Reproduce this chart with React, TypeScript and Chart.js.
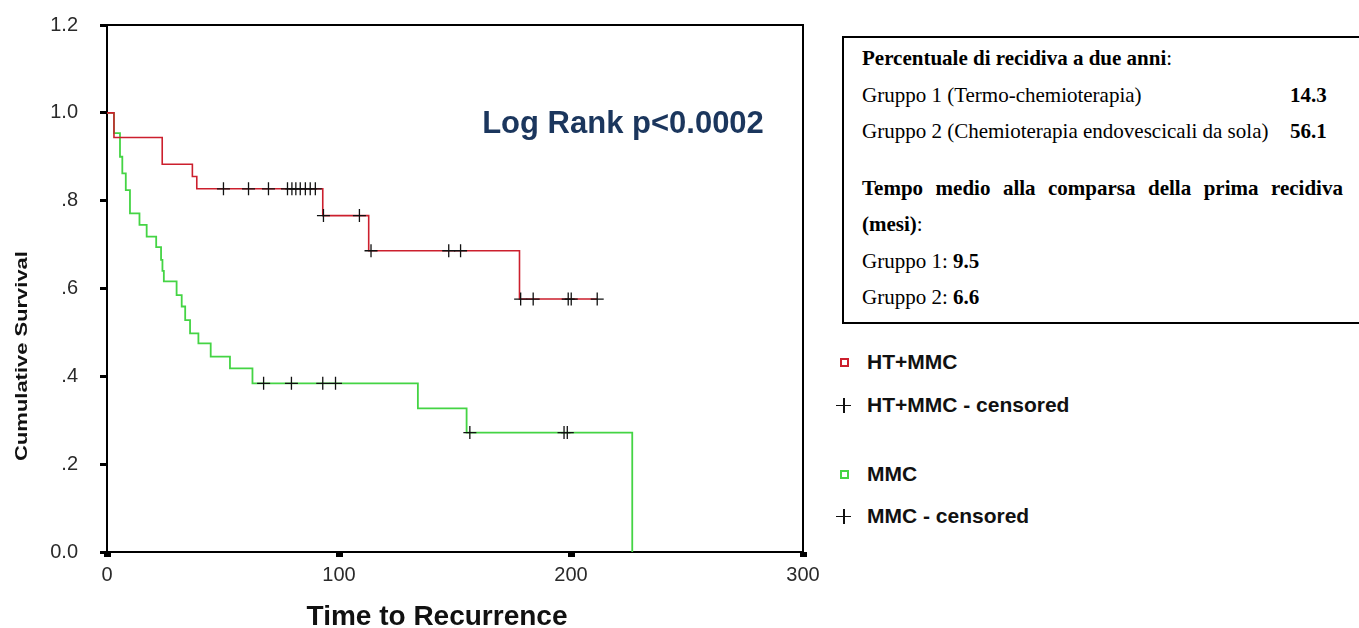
import React, { useEffect, useRef } from "react";
import { Chart, registerables } from "chart.js";

Chart.register(...registerables);

// Axis ticks
const xTickValues = [0, 100, 200, 300];
const xTickLabels = ["0", "100", "200", "300"];
const yTickValues = [0, 0.2, 0.4, 0.6, 0.8, 1.0, 1.2];
const yTickLabels = ["0.0", ".2", ".4", ".6", ".8", "1.0", "1.2"];

// HT+MMC: event times and survival after each event
const htmmcTimes = [0, 3, 23.8, 36.8, 38.7, 93, 112.8, 177.8];
const htmmcSurvival = [1.0, 0.944, 0.883, 0.855, 0.827, 0.766, 0.686, 0.576];
const htmmcCensored = [
  50.2, 61, 69.6, 77.8, 79.7, 81.4, 83.3, 85.5, 87.6, 89.8, 93.3, 108.8, 113.8,
  147.3, 152.4, 178.3, 183.7, 198.8, 200.1, 211.3,
];

// MMC: event times and survival after each event
const mmcTimes = [
  0, 3, 5.6, 6.6, 8.1, 9.9, 14, 17.1, 21.2, 23.3, 23.9, 24.5, 30, 32.2, 33.7,
  35.8, 39.4, 44.7, 53, 62.7, 134, 155, 226.4,
];
const mmcSurvival = [
  1.0, 0.954, 0.9, 0.862, 0.824, 0.771, 0.745, 0.718, 0.694, 0.665, 0.64, 0.616,
  0.585, 0.559, 0.528, 0.498, 0.475, 0.445, 0.418, 0.384, 0.327, 0.272, 0,
];
const mmcCensored = [67.5, 79.5, 93, 98.5, 156.4, 197, 198.4];

// Side panel figures
const groupLabels = [
  "Gruppo 1 (Termo-chemioterapia)",
  "Gruppo 2 (Chemioterapia endovescicali da sola)",
];
const twoYearRecurrence = ["14.3", "56.1"];
const meanMonthsToRecurrence = ["9.5", "6.6"];

const RED = "#cc1f2d";
const GREEN = "#44d444";

function survivalAt(times: number[], surv: number[], t: number): number {
  let s = surv[0];
  for (let i = 0; i < times.length; i++) {
    if (times[i] <= t) s = surv[i];
  }
  return s;
}

function curvePoints(times: number[], surv: number[], censored: number[]) {
  const pts = times.map((t, i) => ({ x: t, y: surv[i] }));
  const lastCensor = Math.max(...censored);
  if (lastCensor > times[times.length - 1]) {
    pts.push({ x: lastCensor, y: surv[surv.length - 1] });
  }
  return pts;
}

function censorPoints(times: number[], surv: number[], censored: number[]) {
  return censored.map((t) => ({ x: t, y: survivalAt(times, surv, t) }));
}

const decorations = {
  id: "decorations",
  beforeDatasetsDraw(chart: any) {
    const { ctx, chartArea: a } = chart;
    ctx.save();
    ctx.strokeStyle = "#000";
    ctx.lineWidth = 2;
    ctx.strokeRect(a.left, a.top, a.right - a.left, a.bottom - a.top);
    ctx.restore();
  },
  afterDraw(chart: any) {
    const { ctx, chartArea: a } = chart;
    ctx.save();
    // statistic annotation
    ctx.fillStyle = "#1b365d";
    ctx.font = 'bold 31px "Liberation Sans", Arial, sans-serif';
    ctx.textAlign = "center";
    ctx.textBaseline = "alphabetic";
    ctx.fillText("Log Rank p<0.0002", a.left + 516, a.top + 108);

    // x-axis title
    ctx.fillStyle = "#111";
    ctx.font = 'bold 28px "Liberation Sans", Arial, sans-serif';
    ctx.fillText("Time to Recurrence", a.left + 330, a.bottom + 73);

    // y-axis title, stretched along its length
    ctx.translate(a.left - 85, a.top + 331);
    ctx.rotate(-Math.PI / 2);
    ctx.scale(1.33, 1);
    ctx.font = 'bold 16.5px "Liberation Sans", Arial, sans-serif';
    ctx.textBaseline = "middle";
    ctx.fillText("Cumulative Survival", 0, 0);
    ctx.restore();
  },
};

function KaplanMeierChart() {
  const ref = useRef<HTMLCanvasElement>(null);
  useEffect(() => {
    if (!ref.current) return;
    const chart = new Chart(ref.current, {
      type: "scatter",
      data: {
        datasets: [
          {
            label: "HT+MMC - censored",
            data: censorPoints(htmmcTimes, htmmcSurvival, htmmcCensored),
            pointStyle: "cross",
            pointRadius: 6.5,
            borderColor: "#111",
            backgroundColor: "#111",
            borderWidth: 1.3,
            order: 0,
          },
          {
            label: "MMC - censored",
            data: censorPoints(mmcTimes, mmcSurvival, mmcCensored),
            pointStyle: "cross",
            pointRadius: 6.5,
            borderColor: "#111",
            backgroundColor: "#111",
            borderWidth: 1.3,
            order: 0,
          },
          {
            label: "HT+MMC",
            data: curvePoints(htmmcTimes, htmmcSurvival, htmmcCensored),
            showLine: true,
            stepped: "before",
            borderColor: RED,
            borderWidth: 1.6,
            pointRadius: 0,
            order: 1,
          },
          {
            label: "MMC",
            data: curvePoints(mmcTimes, mmcSurvival, mmcCensored),
            showLine: true,
            stepped: "before",
            borderColor: GREEN,
            borderWidth: 1.8,
            pointRadius: 0,
            order: 2,
          },
        ],
      },
      options: {
        animation: false,
        responsive: false,
        devicePixelRatio: 1,
        layout: { padding: { left: 0, top: 25, right: 27, bottom: 0 } },
        plugins: {
          legend: { display: false },
          tooltip: { enabled: false },
        },
        scales: {
          x: {
            type: "linear",
            min: 0,
            max: 300,
            afterFit(scale: any) {
              scale.height = 76;
              scale.paddingLeft = 0;
              scale.paddingRight = 0;
            },
            afterBuildTicks(scale: any) {
              scale.ticks = xTickValues.map((v) => ({ value: v }));
            },
            ticks: {
              callback: (_v: any, i: number) => xTickLabels[i],
              color: "#2a2a2a",
              font: { family: '"Liberation Sans", Arial, sans-serif', size: 20 },
              padding: 6,
              maxRotation: 0,
            },
            grid: {
              drawOnChartArea: false,
              drawTicks: true,
              tickLength: 5,
              tickWidth: 7,
              tickColor: "#000",
            },
            border: { display: false },
          },
          y: {
            type: "linear",
            min: 0,
            max: 1.2,
            afterFit(scale: any) {
              scale.width = 107;
              scale.paddingTop = 0;
              scale.paddingBottom = 0;
            },
            afterBuildTicks(scale: any) {
              scale.ticks = yTickValues.map((v) => ({ value: v }));
            },
            ticks: {
              callback: (_v: any, i: number) => yTickLabels[i],
              color: "#2a2a2a",
              font: { family: '"Liberation Sans", Arial, sans-serif', size: 20 },
              padding: 22,
            },
            grid: {
              drawOnChartArea: false,
              drawTicks: true,
              tickLength: 7,
              tickWidth: 3,
              tickColor: "#000",
            },
            border: { display: false },
          },
        },
      },
      plugins: [decorations],
    } as any);
    return () => chart.destroy();
  }, []);
  return (
    <canvas
      ref={ref}
      width={830}
      height={628}
      style={{ position: "absolute", left: 0, top: 0, width: 830, height: 628 }}
    />
  );
}

const legendFont: React.CSSProperties = {
  position: "absolute",
  left: 867,
  fontFamily: '"Liberation Sans", Arial, sans-serif',
  fontWeight: "bold",
  fontSize: 21,
  lineHeight: "24px",
  color: "#111",
  whiteSpace: "nowrap",
};

function SquareMark({ cy, color }: { cy: number; color: string }) {
  return (
    <div
      style={{
        position: "absolute",
        left: 840,
        top: cy - 4,
        width: 5,
        height: 5,
        border: `2px solid ${color}`,
      }}
    />
  );
}

function CrossMark({ cy }: { cy: number }) {
  return (
    <>
      <div style={{ position: "absolute", left: 836, top: cy - 0.5, width: 15, height: 1.5, background: "#111" }} />
      <div style={{ position: "absolute", left: 843, top: cy - 7, width: 1.5, height: 15, background: "#111" }} />
    </>
  );
}

function Legend() {
  const rows = [
    { cy: 362, text: "HT+MMC", kind: "square", color: RED },
    { cy: 405, text: "HT+MMC - censored", kind: "cross", color: "#111" },
    { cy: 474, text: "MMC", kind: "square", color: GREEN },
    { cy: 516, text: "MMC - censored", kind: "cross", color: "#111" },
  ];
  return (
    <>
      {rows.map((r) => (
        <React.Fragment key={r.text}>
          {r.kind === "square" ? <SquareMark cy={r.cy} color={r.color} /> : <CrossMark cy={r.cy} />}
          <div style={{ ...legendFont, top: r.cy - 12 }}>{r.text}</div>
        </React.Fragment>
      ))}
    </>
  );
}

function SummaryBox() {
  const heading = "Tempo medio alla comparsa della prima recidiva".split(" ");
  return (
    <div
      style={{
        position: "absolute",
        left: 842,
        top: 36,
        width: 560,
        height: 288,
        boxSizing: "border-box",
        border: "2px solid #000",
        paddingLeft: 18,
        paddingTop: 2,
        fontFamily: '"Liberation Serif", "Times New Roman", serif',
        fontSize: 21,
        lineHeight: "36.5px",
        color: "#000",
        whiteSpace: "nowrap",
      }}
    >
      <div>
        <b>Percentuale di recidiva a due anni</b>:
      </div>
      {groupLabels.map((g, i) => (
        <div key={g} style={{ display: "flex" }}>
          <span style={{ width: 428, display: "inline-block" }}>{g}</span>
          <b>{twoYearRecurrence[i]}</b>
        </div>
      ))}
      <div
        style={{
          marginTop: 20,
          width: 481,
          display: "flex",
          justifyContent: "space-between",
          fontWeight: "bold",
        }}
      >
        {heading.map((w, i) => (
          <span key={i}>{w}</span>
        ))}
      </div>
      <div>
        <b>(mesi)</b>:
      </div>
      {meanMonthsToRecurrence.map((v, i) => (
        <div key={i}>
          Gruppo {i + 1}: <b>{v}</b>
        </div>
      ))}
    </div>
  );
}

export default function App() {
  return (
    <div
      style={{
        position: "fixed",
        left: 0,
        top: 0,
        width: 1359,
        height: 628,
        background: "#fff",
        overflow: "hidden",
      }}
    >
      <KaplanMeierChart />
      <SummaryBox />
      <Legend />
    </div>
  );
}
